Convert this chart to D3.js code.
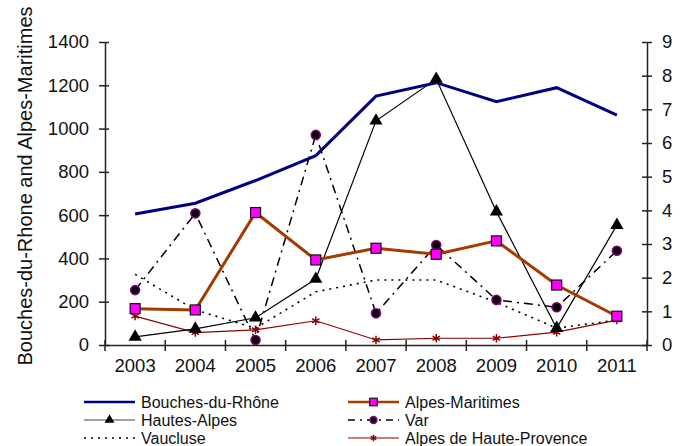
<!DOCTYPE html>
<html><head><meta charset="utf-8">
<script src="https://cdn.jsdelivr.net/npm/d3@7"></script>
<style>body{margin:0;background:#fff}svg{display:block;font-family:"Liberation Sans",Arial,sans-serif}</style>
</head><body><svg id="c" width="680" height="446"></svg>
<script>
const years = ["2003","2004","2005","2006","2007","2008","2009","2010","2011"];
const bouchesDuRhone = [605, 655, 760, 875, 1150, 1212, 1124, 1189, 1062];
const alpesMaritimes = [168, 162, 612, 393, 447, 419, 481, 277, 133];
const hautesAlpes = [0.24, 0.48, 0.81, 1.96, 6.66, 7.9, 3.96, 0.5, 3.56];
const varDept = [1.63, 3.91, 0.15, 6.24, 0.94, 2.97, 1.34, 1.12, 2.8];
const vaucluse = [2.1, 1.04, 0.5, 1.58, 1.93, 1.93, 1.27, 0.5, 0.74];
const alpesHauteProvence = [0.86, 0.37, 0.45, 0.72, 0.15, 0.2, 0.2, 0.38, 0.74];
const leftTicks = [0, 200, 400, 600, 800, 1000, 1200, 1400];
const rightTicks = [0,1,2,3,4,5,6,7,8,9];

const svg = d3.select("#c");
const L = 105, R = 647, T = 42, B = 345;
const x = d3.scaleBand().domain(years).range([L, R]).padding(0);
const cx = d => x(d) + x.bandwidth()/2;
const yL = d3.scaleLinear().domain([0, 1400]).range([B, T]);
const yR = d3.scaleLinear().domain([0, 9]).range([B, T]);
const axisColor = "#222";

// Left axis
const gl = svg.append("g").attr("transform", `translate(${L},0)`)
  .call(d3.axisLeft(yL).tickValues(leftTicks).tickFormat(d3.format("d")).tickSize(6).tickPadding(10).tickSizeOuter(0));
gl.selectAll("line").clone().attr("x2", 4);
// Right axis
const gr = svg.append("g").attr("transform", `translate(${R},0)`)
  .call(d3.axisRight(yR).tickValues(rightTicks).tickFormat(d3.format("d")).tickSize(5).tickPadding(10).tickSizeOuter(0));
gr.selectAll("line").clone().attr("x2", -5);
// Bottom axis (labels)
const gb = svg.append("g").attr("transform", `translate(0,${B})`)
  .call(d3.axisBottom(x).tickSize(0).tickPadding(21).tickSizeOuter(0));
gb.selectAll(".tick text").attr("dy", "0.35em");
// category boundary ticks
const bounds = years.map(y => x(y)).concat([R]);
svg.append("g").selectAll("line").data(bounds).join("line")
  .attr("x1", d => d).attr("x2", d => d).attr("y1", B - 5).attr("y2", B + 6)
  .attr("stroke", axisColor).attr("stroke-width", 1.5);
[gl, gr, gb].forEach(g => {
  g.selectAll("path.domain").attr("stroke", axisColor).attr("stroke-width", 1.5);
  g.selectAll(".tick line").attr("stroke", axisColor).attr("stroke-width", 1.5);
  g.selectAll("text").attr("font-size", 18.5).attr("fill", "#111")
    .attr("font-family", '"Liberation Sans",Arial,sans-serif');
});

// Axis title
svg.append("text").attr("transform", "translate(32,186) rotate(-90)")
  .attr("text-anchor", "middle").attr("font-size", 20).attr("fill", "#111")
  .text("Bouches-du-Rhone and Alpes-Maritimes");

const series = [
  {name:"Vaucluse", data:vaucluse, scale:yR, color:"#000", width:1.6, dash:"2,5", marker:null},
  {name:"Alpes de Haute-Provence", data:alpesHauteProvence, scale:yR, color:"#8B0000", width:1.2, dash:null, marker:"ast"},
  {name:"Var", data:varDept, scale:yR, color:"#000", width:1.5, dash:"9,5,2,5", marker:"circle"},
  {name:"Hautes-Alpes", data:hautesAlpes, scale:yR, color:"#000", width:1.2, dash:null, marker:"tri"},
  {name:"Alpes-Maritimes", data:alpesMaritimes, scale:yL, color:"#A33B00", width:3, dash:null, marker:"square"},
  {name:"Bouches-du-Rhône", data:bouchesDuRhone, scale:yL, color:"#000080", width:3, dash:null, marker:null},
];

function drawMarker(g, type, px, py, k) {
  k = k || 1;
  if (type === "square") {
    const h = 5 * k;
    g.append("rect").attr("x", px-h).attr("y", py-h).attr("width", 2*h).attr("height", 2*h)
      .attr("fill", "#FF00FF").attr("stroke", "#111").attr("stroke-width", 1.2);
  } else if (type === "circle") {
    g.append("circle").attr("cx", px).attr("cy", py).attr("r", 4.5 * k)
      .attr("fill", "#000").attr("stroke", "#800080").attr("stroke-width", 1.6);
  } else if (type === "tri") {
    g.append("path").attr("d", d3.symbol(d3.symbolTriangle, 75 * k * k)()).attr("transform", `translate(${px},${py})`)
      .attr("fill", "#000");
  } else if (type === "ast") {
    g.append("path").attr("d", d3.symbol(d3.symbolAsterisk, 50 * k * k)()).attr("transform", `translate(${px},${py})`)
      .attr("fill", "none").attr("stroke", "#8B0000").attr("stroke-width", 1.5);
  }
}

series.forEach(s => {
  const line = d3.line().x((d,i) => cx(years[i])).y(d => s.scale(d));
  svg.append("path").datum(s.data).attr("d", line).attr("fill", "none")
    .attr("stroke", s.color).attr("stroke-width", s.width)
    .attr("stroke-dasharray", s.dash).attr("stroke-linejoin", "miter");
});
series.forEach(s => {
  if (!s.marker) return;
  const g = svg.append("g");
  s.data.forEach((d,i) => drawMarker(g, s.marker, cx(years[i]), s.scale(d)));
});

// Legend
const legendItems = [
  {ref:"Bouches-du-Rhône", col:0, row:0},
  {ref:"Alpes-Maritimes", col:1, row:0},
  {ref:"Hautes-Alpes", col:0, row:1},
  {ref:"Var", col:1, row:1},
  {ref:"Vaucluse", col:0, row:2},
  {ref:"Alpes de Haute-Provence", col:1, row:2},
];
const colX = [84, 348], rowY = [402, 420, 438];
legendItems.forEach(it => {
  const s = series.find(d => d.name === it.ref);
  const g = svg.append("g");
  const x0 = colX[it.col], y0 = rowY[it.row];
  g.append("line").attr("x1", x0).attr("x2", x0 + 51).attr("y1", y0).attr("y2", y0)
    .attr("stroke", s.name === "Hautes-Alpes" ? "#444" : s.color)
    .attr("stroke-width", s.width === 3 ? 2.5 : s.width)
    .attr("stroke-dasharray", s.dash === "9,5,2,5" ? "7,5,2,5" : s.dash);
  if (s.marker) drawMarker(g, s.marker, x0 + 25.5, y0, 0.75);
  g.append("text").attr("x", x0 + 57).attr("y", y0).attr("dy", "0.35em")
    .attr("font-size", 16).attr("fill", "#111").text(it.ref);
});
</script></body></html>
